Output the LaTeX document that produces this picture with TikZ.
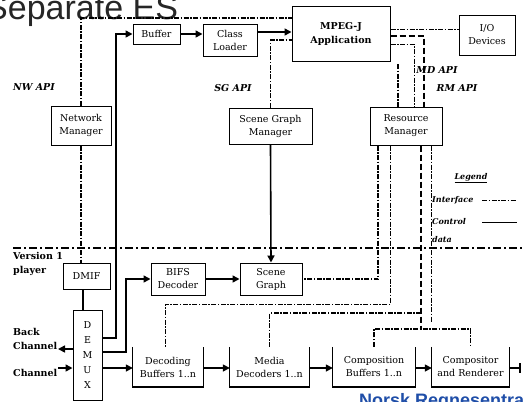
\documentclass[tikz,border=0pt]{standalone}
\usepackage{fontspec}
\setmainfont{DejaVu Serif}
\newfontfamily\slidefont{Liberation Sans}
\usepackage{xcolor}
\usetikzlibrary{arrows.meta}
\definecolor{nrblue}{RGB}{31,78,168}

\begin{document}
\begin{tikzpicture}[
    x=1pt, y=-1pt,
    font=\fontsize{9.5}{13}\selectfont,
    box/.style={draw, line width=1pt, align=center, inner sep=1pt},
    mod/.style={align=center, inner sep=1pt},
    flow/.style={-{Triangle[length=7pt, width=7pt]}, line width=1.6pt},
    ctrl/.style={line width=1.6pt},
    iface/.style={line width=0.9pt, dash pattern=on 5pt off 1.5pt on 1.5pt off 1.5pt},
    ifacethick/.style={line width=2.4pt, dash pattern=on 6pt off 3pt},
    sep/.style={line width=1.6pt, dash pattern=on 8pt off 3pt on 2pt off 3pt},
    api/.style={font=\fontsize{9.5}{11}\selectfont\bfseries\itshape, inner sep=0pt},
    side/.style={font=\fontsize{9.5}{14}\selectfont\bfseries, align=left, inner sep=0pt},
    lgd/.style={font=\fontsize{8}{10}\selectfont\bfseries\itshape, inner sep=0pt}
]

\useasboundingbox (0,0) rectangle (523,402);

% slide residue
\node[font=\slidefont\fontsize{34}{34}\selectfont, text=black!85, anchor=base west, inner sep=0pt]
    (title) at (-15,19) {Separate ES};
\node[font=\slidefont\bfseries\fontsize{18}{18}\selectfont, text=nrblue, anchor=base west, inner sep=0pt]
    (nrlogo) at (359,406) {Norsk Regnesentral};

% MPEG-J part
\node[box, minimum width=47pt, minimum height=20pt] (buffer) at (156.5,34) {Buffer};
\node[box, minimum width=54pt, minimum height=32pt] (classld) at (230,40) {Class\\Loader};
\node[box, minimum width=98pt, minimum height=55pt, font=\fontsize{9.5}{14}\selectfont\bfseries]
    (mpegj) at (341,33.5) {MPEG-J\\Application};
\node[box, minimum width=56pt, minimum height=40pt] (iodev) at (487,35) {I/O\\Devices};
\node[box, minimum width=60pt, minimum height=39pt] (netmgr) at (81,125.5) {Network\\Manager};
\node[box, minimum width=83pt, minimum height=36pt] (sgmgr) at (270.5,126) {Scene Graph\\Manager};
\node[box, minimum width=72pt, minimum height=38pt] (resmgr) at (406,126) {Resource\\Manager};

% Version 1 player
\node[box, minimum width=47pt, minimum height=26pt] (dmif) at (86.5,276) {DMIF};
\node[box, minimum width=29pt, minimum height=90pt, font=\fontsize{9.5}{15}\selectfont]
    (demux) at (87.5,355) {D\\E\\M\\U\\X};
\node[box, minimum width=54pt, minimum height=32pt] (bifs) at (178,279) {BIFS\\Decoder};
\node[box, minimum width=62pt, minimum height=32pt] (scgraph) at (271,279) {Scene\\Graph};
\node[mod, minimum width=70pt, minimum height=40pt] (decbuf) at (168,367) {Decoding\\Buffers 1..n};
\node[mod, minimum width=79pt, minimum height=40pt] (meddec) at (269.5,367) {Media\\Decoders 1..n};
\node[mod, minimum width=82pt, minimum height=40pt] (compbuf) at (374,367) {Composition\\Buffers 1..n};
\node[mod, minimum width=77pt, minimum height=40pt] (compren) at (470.5,367) {Compositor\\and Renderer};
\foreach \n in {decbuf,meddec,compbuf,compren} {
    \draw[line width=1pt] (\n.north west) -- (\n.south west) -- (\n.south east) -- (\n.north east);
    \draw[line width=2pt] (\n.south west) -- (\n.south east);
}

% labels
\node[api] (nwapi) at (34,87) {NW API};
\node[api] (sgapi) at (233,88) {SG API};
\node[api] (mdapi) at (437,70) {MD API};
\node[api] (rmapi) at (457,88) {RM API};
\node[side, anchor=north west] (player) at (13,252) {Version 1\\player};
\node[side, anchor=north west] (backch) at (13,328) {Back\\Channel};
\node[side, anchor=west] (chan) at (13,373) {Channel};

% legend
\node[lgd] (legend) at (471,178) {\underline{Legend}};
\node[lgd, anchor=west] (lgif) at (432,200) {Interface};
\node[lgd, anchor=west] (lgctl) at (432,222) {Control};
\node[lgd, anchor=west] (lgdata) at (432,240) {data};
\draw[iface] (lgif.east -| 482,0) -- (lgif.east -| 517,0);
\draw[ctrl, line width=1pt] (lgctl.east -| 482,0) -- (lgctl.east -| 517,0);

% separator
\draw[sep] (13,248) -- (523,248);

% stream flow
\coordinate (chin) at (58,368);
\coordinate (bkout) at (58,349);
\coordinate (out) at (521,368);
\draw[flow] (chin) -- (chin -| demux.west);
\draw[flow] (demux.west |- bkout) -- (bkout);
\draw[flow] (demux.east |- 0,368) -- (decbuf.west |- 0,368);
\draw[flow] (decbuf.east |- 0,368) -- (meddec.west |- 0,368);
\draw[flow] (meddec.east |- 0,368) -- (compbuf.west |- 0,368);
\draw[flow] (compbuf.east |- 0,368) -- (compren.west |- 0,368);
\draw[line width=1.6pt, -{Bar[width=10pt]}] (compren.east |- 0,368) -- (out);
\draw[flow] (demux.east |- 0,338) -- (116,338) |- (buffer.west);
\draw[flow] (demux.east |- 0,352) -- (126,352) |- (bifs.west);
\draw[flow] (bifs.east) -- (scgraph.west);
\draw[flow] (buffer.east) -- (buffer.east -| classld.west);
\draw[flow] (classld.east |- 0,32) -- (mpegj.west |- 0,32);
\draw[ctrl] (dmif.south -| 83,0) -- (demux.north -| 83,0);
\draw[flow] (sgmgr.south) -- (scgraph.north);

% interfaces
\draw[iface, line width=1.3pt] (netmgr.north) |- (mpegj.west |- 0,18);
\draw[iface, line width=1.3pt] (netmgr.south) -- (netmgr.south |- dmif.north);
\draw[iface, line width=1.3pt] (sgmgr.north) |- (mpegj.west |- 0,40);
\draw[iface] (mpegj.east |- 0,29) -- (iodev.west |- 0,29);
\draw[ifacethick] (mpegj.east |- 0,36) -| (resmgr.north -| 424,0);
\draw[iface] (mpegj.east |- 0,44) -| (resmgr.north -| 414,0);
\draw[iface, line width=1.3pt] (398,64) -- (resmgr.north -| 398,0);

% resource manager control
\draw[iface, line width=1.3pt] (resmgr.south -| 378,0) |- (scgraph.east);
\draw[iface] (resmgr.south -| 390,0) |- (165,304) -- (decbuf.north -| 165,0);
\draw[ifacethick] (resmgr.south -| 421,0) -- (421,329);
\draw[iface] (resmgr.south -| 431,0) -- (431,322);
\draw[iface, line width=1.3pt] (421,313) -| (meddec.north);
\draw[iface, line width=1.3pt] (compbuf.north) |- (421,329) -| (compren.north);

\end{tikzpicture}
\end{document}
